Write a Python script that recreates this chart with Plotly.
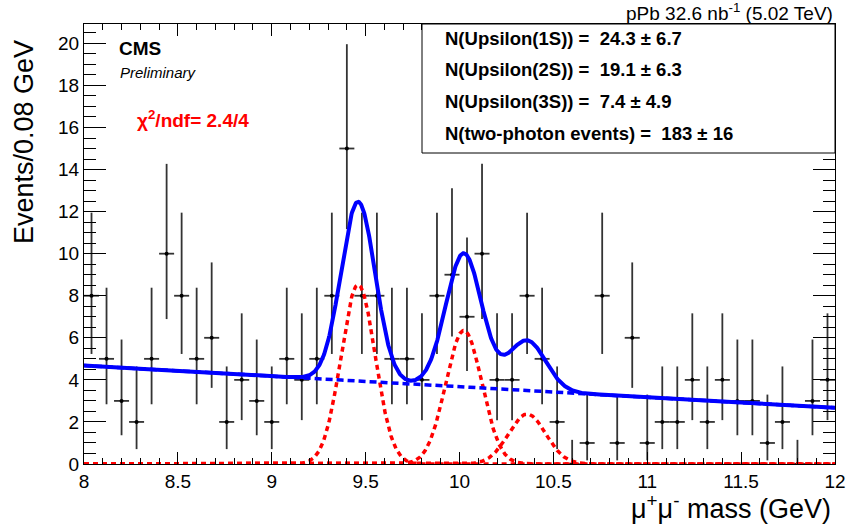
import numpy as np
import plotly.graph_objects as go

# ---------------- data ----------------
MASS_BINS = [8.04, 8.12, 8.20, 8.28, 8.36, 8.44, 8.52, 8.60, 8.68, 8.76,
             8.84, 8.92, 9.00, 9.08, 9.16, 9.24, 9.32, 9.40, 9.48, 9.56,
             9.64, 9.72, 9.80, 9.88, 9.96, 10.04, 10.12, 10.20, 10.28, 10.36,
             10.44, 10.52, 10.60, 10.68, 10.76, 10.84, 10.92, 11.00, 11.08, 11.16,
             11.24, 11.32, 11.40, 11.48, 11.56, 11.64, 11.72, 11.80, 11.88, 11.96]
COUNTS = [8, 5, 3, 2, 5, 10, 8, 5, 6, 2,
          4, 3, 2, 5, 4, 5, 8, 15, 8, 8,
          5, 5, 4, 8, 9, 7, 10, 4, 4, 8,
          5, 2, 0, 1, 8, 1, 6, 1, 2, 2,
          4, 2, 4, 3, 3, 1, 2, 0, 3, 4]
BIN_HALF_WIDTH = 0.04

# Poisson 68% intervals (lower, upper) by count
POISSON_N = [0, 1, 2, 3, 4, 5, 6, 7, 8, 9, 10, 15]
POISSON_LOW = [0.0, 0.173, 0.708, 1.367, 2.086, 2.840, 3.620, 4.419, 5.232, 6.057, 6.891, 11.17]
POISSON_HIGH = [1.148, 3.300, 4.638, 5.918, 7.163, 8.382, 9.584, 10.77, 11.95, 13.11, 14.27, 19.96]

# fit model parameters
PEAK_NAMES = ["Upsilon(1S)", "Upsilon(2S)", "Upsilon(3S)"]
PEAK_YIELDS = [24.3, 19.1, 7.4]
PEAK_ERRORS = [6.7, 6.3, 4.9]
PEAK_MEANS = [9.46, 10.023, 10.36]
PEAK_SIGMAS = [0.091, 0.096, 0.0995]
BKG_YIELD = 183
BKG_ERROR = 16
BKG_AT_LOW = 4.68   # events/bin at 8 GeV
BKG_AT_HIGH = 2.67  # events/bin at 12 GeV
BIN_WIDTH = 0.08
X_RANGE = [8, 12]
Y_RANGE = [0, 20.92]

# ---------------- derived ----------------
low_map = dict(zip(POISSON_N, POISSON_LOW))
high_map = dict(zip(POISSON_N, POISSON_HIGH))
err_plus = [high_map[n] - n for n in COUNTS]
err_minus = [n - low_map[n] for n in COUNTS]

xf = np.linspace(X_RANGE[0], X_RANGE[1], 1601)
bkg = BKG_AT_LOW + (BKG_AT_HIGH - BKG_AT_LOW) * (xf - X_RANGE[0]) / (X_RANGE[1] - X_RANGE[0])
gauss = []
for n, m, s in zip(PEAK_YIELDS, PEAK_MEANS, PEAK_SIGMAS):
    gauss.append(n * BIN_WIDTH / (np.sqrt(2 * np.pi) * s) * np.exp(-0.5 * ((xf - m) / s) ** 2))
total = bkg + sum(gauss)

FONT = "Liberation Sans, Arial, Helvetica, sans-serif"

fig = go.Figure()

fig.add_trace(go.Scatter(
    x=MASS_BINS, y=COUNTS, mode="markers",
    marker=dict(color="black", size=4),
    error_y=dict(type="data", symmetric=False, array=err_plus, arrayminus=err_minus,
                 color="#333333", thickness=1.8, width=0),
    error_x=dict(type="constant", value=BIN_HALF_WIDTH, color="#333333", thickness=1.8, width=0),
    showlegend=False, cliponaxis=True))

for g in gauss:
    fig.add_trace(go.Scatter(x=xf, y=g, mode="lines",
                             line=dict(color="#ff0000", width=3.5, dash="5px,4px"),
                             showlegend=False))

fig.add_trace(go.Scatter(x=xf, y=bkg, mode="lines",
                         line=dict(color="#0000ff", width=3.5, dash="7px,4px"),
                         showlegend=False))
fig.add_trace(go.Scatter(x=xf, y=total, mode="lines",
                         line=dict(color="#0000ff", width=4),
                         showlegend=False))

L, R, T, B = 84, 12, 24, 68
W, H = 847, 532
pw = W - L - R
ph = H - T - B


def px(xp):
    return (xp - L) / pw


def py(yp):
    return (H - B - yp) / ph


# legend box
fig.add_shape(type="rect", xref="paper", yref="paper",
              x0=px(422), x1=1, y0=py(153), y1=1,
              line=dict(color="black", width=1), fillcolor="white", layer="above")

lines = [f"N({nm}) =\u00a0 {y} \u00b1 {e}" for nm, y, e in zip(PEAK_NAMES, PEAK_YIELDS, PEAK_ERRORS)]
lines.append(f"N(two-photon events) =\u00a0 {BKG_YIELD} \u00b1 {BKG_ERROR}")
for i, (txt, yy) in enumerate(zip(lines, [38.5, 70, 101.5, 133])):
    fig.add_annotation(xref="paper", yref="paper", x=px(443), y=py(yy),
                       xanchor="left", yanchor="middle", showarrow=False,
                       text=f"<b>{txt}</b>", font=dict(family=FONT, size=18.5, color="black"))

fig.add_annotation(xref="paper", yref="paper", x=px(835), y=py(12),
                   xanchor="right", yanchor="middle", showarrow=False,
                   text="pPb 32.6 nb<sup>-1</sup> (5.02 TeV)",
                   font=dict(family=FONT, size=19, color="black"))
fig.add_annotation(xref="paper", yref="paper", x=px(117), y=py(49),
                   xanchor="left", yanchor="middle", showarrow=False,
                   text="<b>CMS</b>", font=dict(family=FONT, size=19, color="black"))
fig.add_annotation(xref="paper", yref="paper", x=px(118), y=py(72),
                   xanchor="left", yanchor="middle", showarrow=False,
                   text="<i>Preliminary</i>", font=dict(family=FONT, size=15, color="black"))
fig.add_annotation(xref="paper", yref="paper", x=px(135), y=py(119),
                   xanchor="left", yanchor="middle", showarrow=False,
                   text="<b>\u03c7<sup>2</sup>/ndf= 2.4/4</b>",
                   font=dict(family=FONT, size=19, color="#ff0000"))
fig.add_annotation(xref="paper", yref="paper", x=px(24), y=py(142),
                   xanchor="center", yanchor="middle", showarrow=False, textangle=-90,
                   text="Events/0.08 GeV", font=dict(family=FONT, size=27, color="black"))
fig.add_annotation(xref="paper", yref="paper", x=px(833), y=py(507),
                   xanchor="right", yanchor="middle", showarrow=False,
                   text="\u03bc<sup>+</sup>\u03bc<sup>-</sup> mass (GeV)",
                   font=dict(family=FONT, size=27, color="black"))

fig.update_layout(
    width=W, height=H,
    margin=dict(l=L, r=R, t=T, b=B, autoexpand=False),
    paper_bgcolor="white", plot_bgcolor="white",
    font=dict(family=FONT, size=19, color="black"),
    showlegend=False,
    xaxis=dict(range=X_RANGE, dtick=0.5, tick0=8, ticks="inside", ticklen=12, tickwidth=1,
               tickcolor="black", showline=True, linecolor="black", linewidth=1,
               mirror="ticks", showgrid=False, zeroline=False, automargin=False,
               tickfont=dict(family=FONT, size=19),
               minor=dict(dtick=0.1, tick0=8, ticks="inside", ticklen=6, tickcolor="black",
                          tickwidth=1, showgrid=False)),
    yaxis=dict(range=Y_RANGE, dtick=2, tick0=0, ticks="inside", ticklen=22, tickwidth=1,
               tickcolor="black", showline=True, linecolor="black", linewidth=1,
               mirror="ticks", showgrid=False, zeroline=False, automargin=False,
               tickfont=dict(family=FONT, size=19),
               minor=dict(dtick=0.5, tick0=0, ticks="inside", ticklen=12, tickcolor="black",
                          tickwidth=1, showgrid=False)),
)

fig.write_html("out.html", config={"displayModeBar": False},
               post_script="document.body.style.margin='0';document.body.style.overflow='hidden';")
